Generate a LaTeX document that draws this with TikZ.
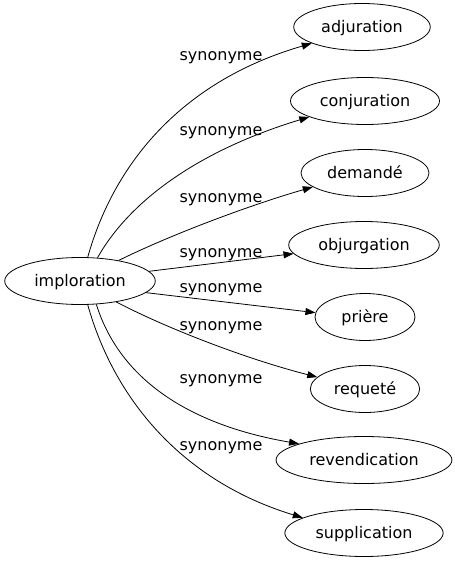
\documentclass[tikz,border=0pt]{standalone}
\usepackage{fontspec}
\setmainfont{DejaVu Sans}
\usetikzlibrary{arrows.meta,shapes.geometric}

\begin{document}
\begin{tikzpicture}[x=1pt,y=-1pt,
    word/.style={draw,ellipse,line width=0.8pt,inner xsep=7.5pt,inner ysep=0pt,
      minimum width=100pt,minimum height=47pt,text height=11pt,text depth=0pt,
      font=\fontsize{16}{19}\selectfont},
    rel/.style={font=\fontsize{16}{19}\selectfont,anchor=base,inner sep=0pt},
    link/.style={line width=0.8pt,-{Triangle[length=10pt,width=7pt]}}]
  \useasboundingbox (0,0) rectangle (455,563);

  \node[word] (imp) at (80,281) {imploration};
  \node[word] (adj) at (362,27) {adjuration};
  \node[word] (conj) at (365,101) {conjuration};
  \node[word] (dem) at (365,173) {demandé};
  \node[word] (obj) at (364,245) {objurgation};
  \node[word] (pri) at (365,317) {prière};
  \node[word] (req) at (365,389) {requeté};
  \node[word] (rev) at (364,460) {revendication};
  \node[word] (sup) at (364,533) {supplication};

  \node[rel] (lab1) at (221,60) {synonyme};
  \node[rel] (lab2) at (221,135) {synonyme};
  \node[rel] (lab3) at (221,202) {synonyme};
  \node[rel] (lab4) at (221,257) {synonyme};
  \node[rel] (lab5) at (221,292) {synonyme};
  \node[rel] (lab6) at (221,330) {synonyme};
  \node[rel] (lab7) at (221,383) {synonyme};
  \node[rel] (lab8) at (221,450) {synonyme};

  \draw[link] (imp.72) .. controls (115,160) and (185,80) .. (adj.198);
  \draw[link] (imp.53) .. controls (130,200) and (200,150) .. (conj.196);
  \draw[link] (imp.28) .. controls (170,235) and (250,205) .. (dem.195);
  \draw[link] (imp.8) -- (obj.187);
  \draw[link] (imp.-10) -- (pri.175);
  \draw[link] (imp.-30) .. controls (170,330) and (250,360) .. (req.166);
  \draw[link] (imp.-55) .. controls (120,380) and (190,425) .. (rev.166);
  \draw[link] (imp.-72) .. controls (115,402) and (185,482) .. (sup.166);
\end{tikzpicture}
\end{document}
